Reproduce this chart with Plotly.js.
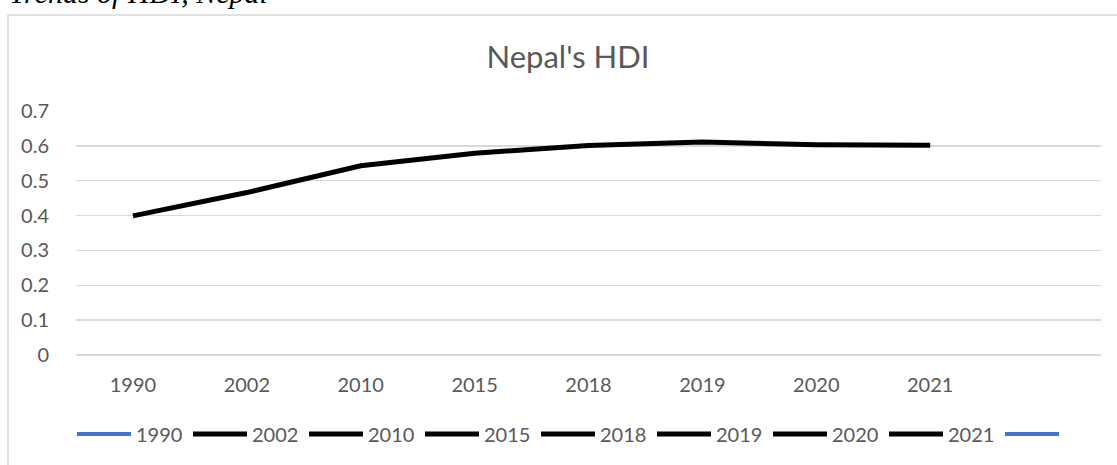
<!DOCTYPE html>
<html>
<head>
<meta charset="utf-8">
<script src="https://cdn.plot.ly/plotly-3.0.1.min.js"></script>
<style>
  html, body { margin: 0; padding: 0; background: #fff; overflow: hidden; }
  #chart { width: 1117px; height: 465px; }
</style>
</head>
<body>
<div id="chart"></div>
<script>
// ---- data ----
const years = ['1990', '2002', '2010', '2015', '2018', '2019', '2020', '2021'];
const hdi = [0.399, 0.466, 0.543, 0.579, 0.601, 0.611, 0.603, 0.602];
const legendLabels = ['1990', '2002', '2010', '2015', '2018', '2019', '2020', '2021', ' '];
const yTicks = [0, 0.1, 0.2, 0.3, 0.4, 0.5, 0.6, 0.7];
const captionText = 'Trends of HDI, Nepal';
const chartTitle = "Nepal's HDI";

// ---- styling ----
const W = 1117, H = 465;
const M = { l: 76, r: 16, t: 111, b: 110 };
const plotW = W - M.l - M.r, plotH = H - M.t - M.b;
const px2x = px => (px - M.l) / plotW;
const py2y = py => (H - M.b - py) / plotH;
const textColor = '#595959';
const gridColor = '#d9d9d9';
const FONT = 'Lato, Carlito, Calibri, sans-serif';
const legendColors = legendLabels.map((l, i) => (i === 0 || i === legendLabels.length - 1) ? '#4472C4' : '#000000');

const traces = [{
  type: 'scatter',
  mode: 'lines',
  x: years,
  y: hdi,
  line: { color: '#000000', width: 5, shape: 'linear' },
  showlegend: false,
  hoverinfo: 'skip'
}];
legendLabels.forEach((lab, i) => {
  traces.push({
    type: 'scatter',
    mode: 'lines',
    x: years,
    y: years.map(() => null),
    name: lab,
    line: { color: legendColors[i], width: legendColors[i] === '#000000' ? 5 : 4 },
    showlegend: true,
    hoverinfo: 'skip'
  });
});

const layout = {
  width: W,
  height: H,
  margin: M,
  paper_bgcolor: '#ffffff',
  plot_bgcolor: '#ffffff',
  font: { family: FONT, color: textColor, size: 20 },
  title: {
    text: chartTitle,
    font: { family: FONT, size: 31, color: textColor },
    xref: 'container', x: 568 / W, xanchor: 'center',
    yref: 'container', y: 1 - 57 / H, yanchor: 'middle'
  },
  xaxis: {
    type: 'category',
    categoryorder: 'array',
    categoryarray: years,
    range: [-0.5, years.length + 0.5],
    showgrid: false,
    zeroline: false,
    showline: false,
    ticks: 'outside',
    ticklen: 12,
    tickcolor: 'rgba(0,0,0,0)',
    tickfont: { family: FONT, size: 20, color: textColor },
    fixedrange: true
  },
  yaxis: {
    range: [0, 0.7],
    tickvals: yTicks,
    ticktext: yTicks.map(v => String(v)),
    showgrid: true,
    gridcolor: gridColor,
    gridwidth: 1.5,
    zeroline: true,
    zerolinecolor: gridColor,
    zerolinewidth: 1.5,
    showline: false,
    ticks: 'outside',
    ticklen: 22,
    tickcolor: 'rgba(0,0,0,0)',
    tickfont: { family: FONT, size: 20, color: textColor },
    fixedrange: true
  },
  showlegend: true,
  legend: {
    orientation: 'h',
    x: px2x(72), xanchor: 'left',
    y: py2y(434), yanchor: 'middle',
    itemwidth: 54,
    entrywidth: 47,
    entrywidthmode: 'pixels',
    font: { family: FONT, size: 20, color: textColor },
    bgcolor: 'rgba(0,0,0,0)',
    itemclick: false,
    itemdoubleclick: false
  },
  shapes: [{
    type: 'rect',
    xref: 'paper', yref: 'paper',
    x0: px2x(8), x1: px2x(1130),
    y0: py2y(475), y1: py2y(15),
    line: { color: gridColor, width: 1.5 },
    fillcolor: 'rgba(0,0,0,0)',
    layer: 'below'
  }],
  annotations: [{
    text: '<i>' + captionText + '</i>',
    xref: 'paper', yref: 'paper',
    x: px2x(7), xanchor: 'left',
    y: py2y(-8), yanchor: 'middle',
    showarrow: false,
    font: { family: 'Liberation Serif, Times New Roman, serif', size: 30, color: '#000000' }
  }],
  hovermode: false
};

Plotly.newPlot('chart', traces, layout, { staticPlot: true, displayModeBar: false });
</script>
</body>
</html>
